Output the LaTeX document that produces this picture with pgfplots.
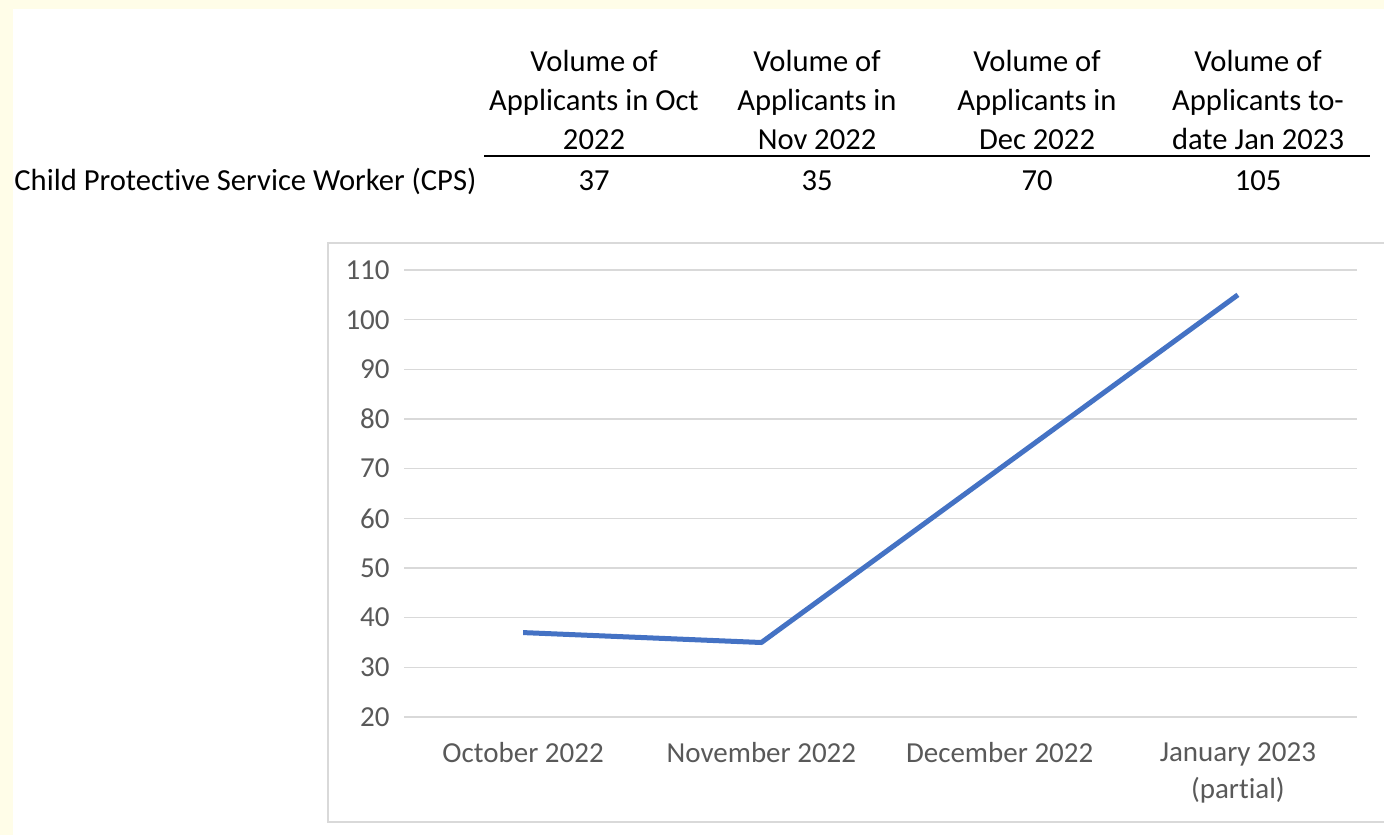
\documentclass[border=0pt]{standalone}
\usepackage{fontspec}
\setmainfont{Carlito}[Ligatures=NoCommon]
\usepackage{pgfplots}
\pgfplotsset{compat=1.18}

\definecolor{bgyellow}{HTML}{FFFDE8}
\definecolor{gridgray}{HTML}{D9D9D9}
\definecolor{labelgray}{HTML}{595959}
\definecolor{lineblue}{HTML}{4472C4}

\begin{document}
\begin{tikzpicture}
% page in pixel units of the reference (1px = 0.5pt), y downwards
\begin{scope}[x=0.5pt,y=-0.5pt]
  \useasboundingbox (0,0) rectangle (1384,835);
  \fill[bgyellow] (0,0) rectangle (1384,835);
  \fill[white] (13,9) rectangle (1384,835);
  \draw[gridgray, line width=0.75pt] (1384,243) -- (328,243) -- (328,822) -- (1384,822);

  % table above the chart
  \begin{scope}[every node/.style={inner sep=0pt, anchor=base, font=\fontsize{15.3}{19}\selectfont}]
    \node at (594,71)  {Volume of};
    \node at (594,110) {Applicants in Oct};
    \node at (594,149) {2022};
    \node at (817,71)  {Volume of};
    \node at (817,110) {Applicants in};
    \node at (817,149) {Nov 2022};
    \node at (1037,71)  {Volume of};
    \node at (1037,110) {Applicants in};
    \node at (1037,149) {Dec 2022};
    \node at (1258,71)  {Volume of};
    \node at (1258,110) {Applicants to-};
    \node at (1258,149) {date Jan 2023};
    \node[anchor=base west] at (14,190) {Child Protective Service Worker (CPS)};
    \node at (594,190)  {37};
    \node at (817,190)  {35};
    \node at (1037,190) {70};
    \node at (1258,190) {105};
  \end{scope}
  \draw[black, line width=1pt] (484,156) -- (1370,156);

  \coordinate (plotSW) at (404,717);
\end{scope}

\begin{axis}[
    at={(plotSW)}, anchor=south west,
    scale only axis,
    width=476.5pt, height=223.5pt,
    xmin=-0.5, xmax=3.5,
    ymin=20, ymax=110,
    xtick={0,1,2,3},
    xticklabels={October 2022, November 2022, December 2022, {January 2023\\(partial)}},
    ytick={20,30,...,110},
    ymajorgrids,
    grid style={draw=gridgray, line width=0.75pt},
    axis line style={draw=none},
    major tick length=0pt,
    clip=false,
    /pgf/number format/assume math mode=true,
    tick label style={font=\fontsize{14.5}{18.5}\selectfont, text=labelgray},
    yticklabel style={anchor=east, inner sep=0pt, xshift=-7pt},
    xticklabel style={anchor=north, inner sep=0pt, yshift=-12.5pt, align=center},
  ]
  \addplot[color=lineblue, line width=2.5pt, line join=round] coordinates {
    (0,37)
    (1,35)
    (2,70)
    (3,105)
  };
\end{axis}
\end{tikzpicture}
\end{document}
